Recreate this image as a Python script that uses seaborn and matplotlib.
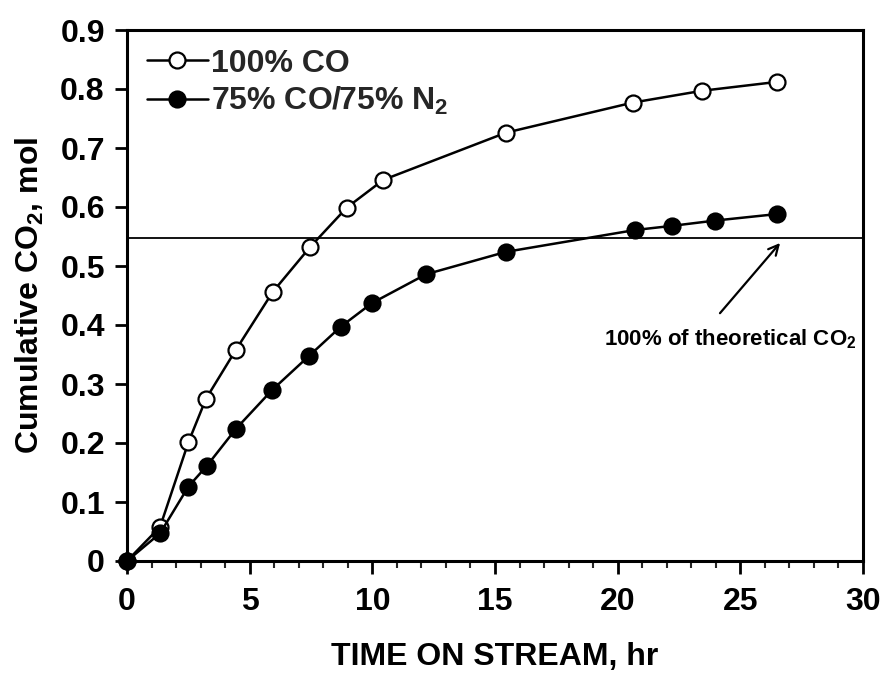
import matplotlib
matplotlib.use("Agg")
import matplotlib.pyplot as plt
import seaborn as sns
import pandas as pd
from matplotlib.ticker import MultipleLocator

# ---- data ----
time_co100 = [0.0, 1.35, 2.50, 3.22, 4.44, 5.94, 7.46, 8.96, 10.45, 15.45, 20.62, 23.44, 26.49]
co2_co100 = [0.0, 0.058, 0.201, 0.275, 0.358, 0.456, 0.532, 0.599, 0.646, 0.726, 0.777, 0.797, 0.812]

time_co75 = [0.0, 1.35, 2.50, 3.25, 4.44, 5.92, 7.43, 8.71, 9.98, 12.19, 15.45, 20.71, 22.21, 23.97, 26.49]
co2_co75 = [0.0, 0.047, 0.126, 0.161, 0.224, 0.290, 0.348, 0.397, 0.437, 0.486, 0.524, 0.561, 0.568, 0.577, 0.588]

theoretical_co2 = 0.547
label_co100 = "100% CO"
label_co75 = "75% CO/75% N$_2$"
annot_text = "100% of theoretical CO$_2$"
xlabel = "TIME ON STREAM, hr"
ylabel = "Cumulative CO$_2$, mol"
xticks = [0, 5, 10, 15, 20, 25, 30]
yticks = [0, 0.1, 0.2, 0.3, 0.4, 0.5, 0.6, 0.7, 0.8, 0.9]
ytick_labels = ["0", "0.1", "0.2", "0.3", "0.4", "0.5", "0.6", "0.7", "0.8", "0.9"]

sns.set_theme(style="ticks")
plt.rcParams["font.family"] = ["Liberation Sans", "DejaVu Sans"]
plt.rcParams["font.weight"] = "bold"
plt.rcParams["mathtext.fontset"] = "custom"
plt.rcParams["mathtext.rm"] = "Liberation Sans:bold"
plt.rcParams["mathtext.it"] = "Liberation Sans:bold"
plt.rcParams["mathtext.bf"] = "Liberation Sans:bold"
plt.rcParams["mathtext.default"] = "rm"

fig = plt.figure(figsize=(8.81, 6.73), dpi=100)
ax = fig.add_axes([127 / 881, 1 - 561 / 673, (863 - 127) / 881, (561 - 30) / 673])

df1 = pd.DataFrame({"t": time_co100, "c": co2_co100})
df2 = pd.DataFrame({"t": time_co75, "c": co2_co75})

sns.lineplot(data=df1, x="t", y="c", ax=ax, color="black", lw=1.8,
             marker="o", ms=11.5, mfc="white", mec="black", mew=1.6,
             label=label_co100, clip_on=False, zorder=3)
sns.lineplot(data=df2, x="t", y="c", ax=ax, color="black", lw=1.8,
             marker="o", ms=11.5, mfc="black", mec="black", mew=1.6,
             label=label_co75, clip_on=False, zorder=4)

ax.axhline(theoretical_co2, color="black", lw=1.3, zorder=2)

ax.annotate("", xy=(26.62, 0.539), xytext=(24.17, 0.42),
            arrowprops=dict(arrowstyle="->", color="black", lw=1.6,
                            mutation_scale=18, shrinkA=0, shrinkB=0))
ax.text(29.72, 0.376, annot_text, ha="right", va="center", fontsize=16,
        fontweight="bold", color="black")

ax.set_xlim(0, 30)
ax.set_ylim(0, 0.9)
ax.set_xticks(xticks)
ax.set_yticks(yticks)
ax.set_yticklabels(ytick_labels)
ax.xaxis.set_minor_locator(MultipleLocator(1))
ax.tick_params(axis="both", which="major", direction="out", length=9, width=2,
               labelsize=23, colors="black", pad=7)
ax.tick_params(axis="x", which="minor", direction="out", length=5, width=1.5)
ax.tick_params(axis="x", which="major", pad=10)
for lab in ax.get_xticklabels() + ax.get_yticklabels():
    lab.set_fontweight("bold")

for sp in ax.spines.values():
    sp.set_visible(True)
    sp.set_linewidth(2.2)
    sp.set_color("black")

ax.set_xlabel(xlabel, fontsize=23, fontweight="bold", labelpad=18, color="black")
ax.set_ylabel(ylabel, fontsize=23, fontweight="bold", labelpad=10, color="black")

leg = ax.legend(loc="upper left", bbox_to_anchor=(0.027, 0.965), frameon=False,
                fontsize=23, handlelength=1.9, handletextpad=0.1,
                labelspacing=0.2, borderpad=0, borderaxespad=0)
for t in leg.get_texts():
    t.set_fontweight("bold")

fig.savefig("out.png", dpi=100)
